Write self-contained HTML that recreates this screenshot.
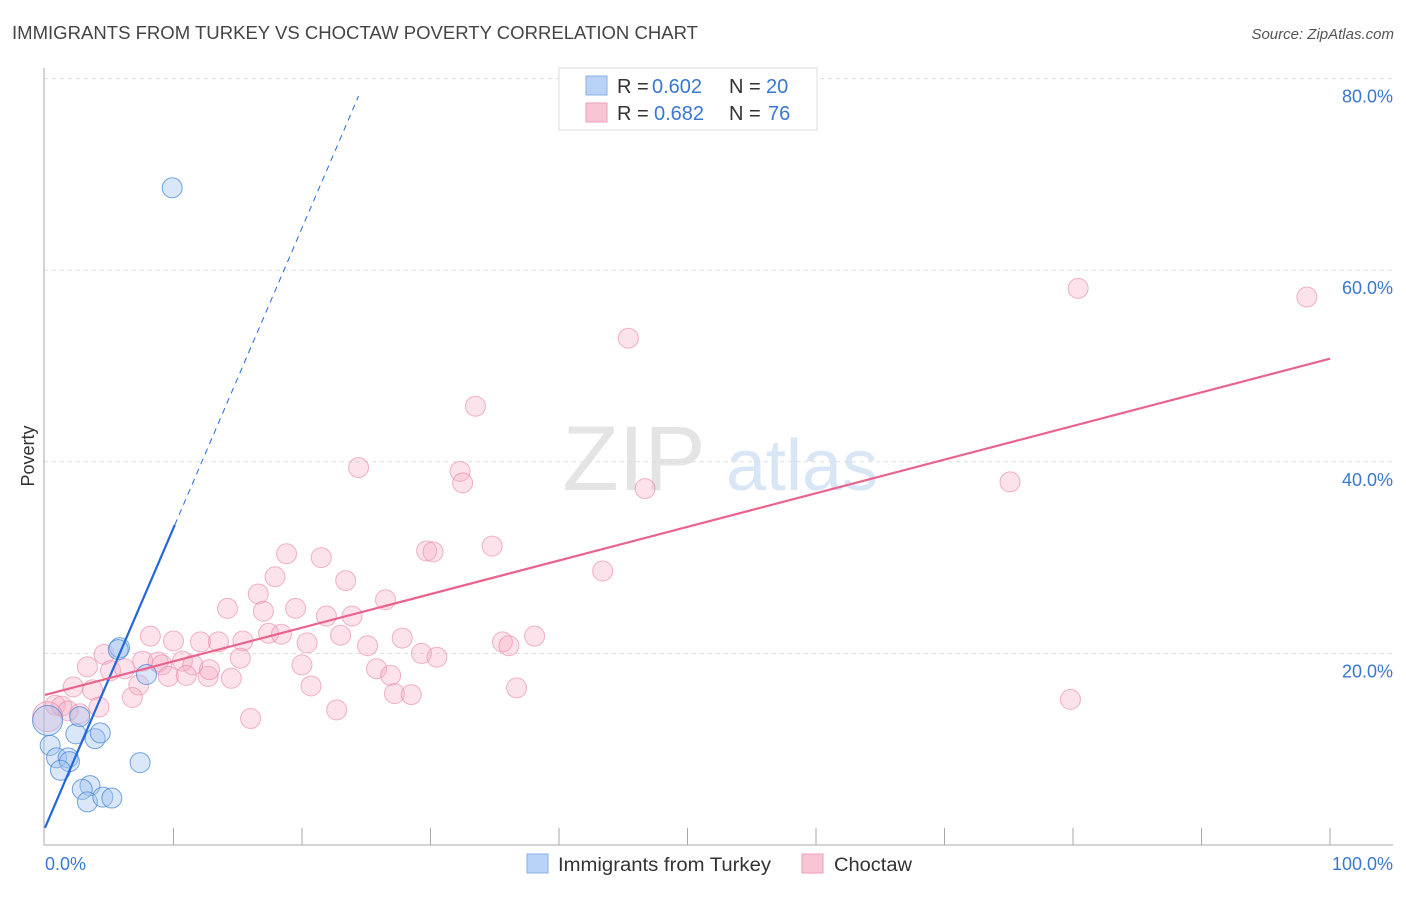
<!DOCTYPE html>
<html><head><meta charset="utf-8"><style>
body{margin:0;background:#fff;font-family:"Liberation Sans",sans-serif}
svg text{font-family:"Liberation Sans",sans-serif}
</style></head><body>
<svg id="chart" width="1406" height="892" viewBox="0 0 1406 892">
<text x="12" y="39" font-size="18" fill="#444" textLength="686" lengthAdjust="spacingAndGlyphs">IMMIGRANTS FROM TURKEY VS CHOCTAW POVERTY CORRELATION CHART</text>
<text x="1394" y="39" font-size="15" fill="#555" font-style="italic" text-anchor="end">Source: ZipAtlas.com</text>
<g>
<text x="634" y="490" font-size="92" fill="#e4e4e4" font-family="Liberation Serif,serif" text-anchor="middle">ZIP</text>
<text x="802" y="490" font-size="72" fill="#d8e6f6" text-anchor="middle">atlas</text>
</g>
<text transform="translate(34,456) rotate(-90)" font-size="18" fill="#333" text-anchor="middle">Poverty</text>
<g id="grid"></g>
<g id="axes"></g>
<g id="marks"></g>
<g>
<rect x="559" y="68" width="258" height="62" fill="#fff" stroke="#ddd"/>
<rect x="586" y="76" width="21" height="19" fill="#b8d3f5" stroke="#8ab2e6"/>
<rect x="586" y="103" width="21" height="19" fill="#f8c5d4" stroke="#ee9fb8"/>
<text x="617" y="93" font-size="20" fill="#333">R =</text>
<text x="652" y="93" font-size="20" fill="#3a78d0">0.602</text>
<text x="729" y="93" font-size="20" fill="#333">N =</text>
<text x="766" y="93" font-size="20" fill="#3a78d0">20</text>
<text x="617" y="120" font-size="20" fill="#333">R =</text>
<text x="654" y="120" font-size="20" fill="#3a78d0">0.682</text>
<text x="729" y="120" font-size="20" fill="#333">N =</text>
<text x="768" y="120" font-size="20" fill="#3a78d0">76</text>
</g>
<g>
<rect x="527" y="854" width="21" height="19" fill="#b8d3f5" stroke="#8ab2e6"/>
<text x="558" y="871" font-size="19" fill="#333" textLength="213" lengthAdjust="spacingAndGlyphs">Immigrants from Turkey</text>
<rect x="802" y="854" width="21" height="19" fill="#f8c5d4" stroke="#ee9fb8"/>
<text x="834" y="871" font-size="19" fill="#333" textLength="78" lengthAdjust="spacingAndGlyphs">Choctaw</text>
</g>
</svg>
<script>
const yTicks=[20,40,60,80];
const yTickLabels=["20.0%","40.0%","60.0%","80.0%"];
const xTicks=[10,20,30,40,50,60,70,80,90,100];
const turkeyX=[9.9,5.8,7.9,0.4,0.9,1.8,1.9,1.2,2.4,2.7,3.9,4.3,7.4,3.5,2.9,3.3,4.5,5.2,0.2,5.7];
const turkeyY=[68.6,20.6,17.8,10.4,9.1,9.1,8.7,7.8,11.6,13.4,11.1,11.7,8.6,6.2,5.8,4.5,5.0,4.9,13.0,20.4];
const choctawX=[45.4,80.4,98.2,33.5,24.4,32.3,32.5,46.7,75.1,18.8,21.5,29.7,30.2,34.8,17.9,23.4,43.4,16.6,14.2,17.0,19.5,21.9,23.9,26.5,8.2,10.0,12.1,13.5,15.4,17.4,18.4,23.0,25.1,27.8,35.6,36.1,38.1,4.6,7.6,8.8,9.1,10.7,11.5,15.2,20.4,29.3,30.5,3.3,5.1,6.2,9.6,11.0,12.7,12.8,14.5,20.0,25.8,26.9,2.2,3.7,7.3,20.7,36.7,27.2,28.5,6.8,79.8,0.8,1.3,1.8,4.2,22.7,16.0,2.7,0.2];
const choctawY=[52.9,58.1,57.2,45.8,39.4,39.0,37.8,37.2,37.9,30.4,30.0,30.7,30.6,31.2,28.0,27.6,28.6,26.2,24.7,24.4,24.7,23.9,23.9,25.6,21.8,21.3,21.2,21.2,21.3,22.1,22.0,21.9,20.8,21.6,21.2,20.8,21.8,19.9,19.2,19.1,18.8,19.2,18.8,19.5,21.1,20.0,19.6,18.6,18.2,18.4,17.6,17.7,17.6,18.3,17.4,18.8,18.4,17.7,16.5,16.2,16.7,16.6,16.4,15.8,15.7,15.4,15.2,14.6,14.5,14.0,14.4,14.1,13.2,13.7,13.4];
const turkeyFit=[1.8,3.13];   // intercept, slope
const choctawFit=[15.66,0.351];
const NS="http://www.w3.org/2000/svg";
const X=v=>45+v*12.85, Y=v=>845-v*9.58;
function mk(tag,attrs,parent){const e=document.createElementNS(NS,tag);for(const k in attrs)e.setAttribute(k,attrs[k]);parent.appendChild(e);return e;}
const grid=document.getElementById('grid'),axes=document.getElementById('axes'),marks=document.getElementById('marks');
yTicks.forEach((t,i)=>{
 const l=mk('line',{x1:44,x2:1393,y1:Y(t),y2:Y(t),stroke:'#ddd','stroke-dasharray':'4,4'},grid);
 
 
 const tx=mk('text',{x:1393,y:Y(t)+24,'font-size':18,fill:'#3a78d0','text-anchor':'end'},axes);
 tx.textContent=yTickLabels[i];
 
 
});
const yl=mk('line',{x1:44,x2:44,y1:68,y2:845,stroke:'#aaa'},axes);


const xl=mk('line',{x1:44,x2:1393,y1:845,y2:845,stroke:'#aaa'},axes);


xTicks.forEach(t=>{
 const l=mk('line',{x1:X(t),x2:X(t),y1:828,y2:845,stroke:'#aaa'},axes);
 
 
});
const x0=mk('text',{x:45,y:870,'font-size':18,fill:'#3a78d0'},axes);x0.textContent='0.0%';


const x1=mk('text',{x:1393,y:870,'font-size':18,fill:'#3a78d0','text-anchor':'end'},axes);x1.textContent='100.0%';


choctawX.forEach((v,i)=>{
 const big=(i===choctawX.length-1);
 const c=mk('circle',{cx:X(v),cy:Y(choctawY[i]),r:big?15:10,fill:'rgba(246,170,194,0.33)',stroke:'rgba(232,130,164,0.6)','stroke-width':1},marks);
 
 
});
turkeyX.forEach((v,i)=>{
 const big=(i===18);
 const c=mk('circle',{cx:X(v),cy:Y(turkeyY[i]),r:big?15:10,fill:'rgba(160,196,240,0.4)',stroke:'rgba(70,135,215,0.75)','stroke-width':1},marks);
 
 
});
const tEnd=10.1, tDash=24.4;
const tl=mk('line',{x1:X(0),y1:Y(turkeyFit[0]),x2:X(tEnd),y2:Y(turkeyFit[0]+turkeyFit[1]*tEnd),stroke:'#2468d8','stroke-width':2.2},marks);


const td=mk('line',{x1:X(tEnd),y1:Y(turkeyFit[0]+turkeyFit[1]*tEnd),x2:X(tDash),y2:Y(turkeyFit[0]+turkeyFit[1]*tDash),stroke:'#2468d8','stroke-width':1,'stroke-dasharray':'6,5'},marks);


const cl=mk('line',{x1:X(0),y1:Y(choctawFit[0]),x2:X(100),y2:Y(choctawFit[0]+choctawFit[1]*100),stroke:'#e8648e','stroke-width':2.2},marks);


</script>
</body></html>
